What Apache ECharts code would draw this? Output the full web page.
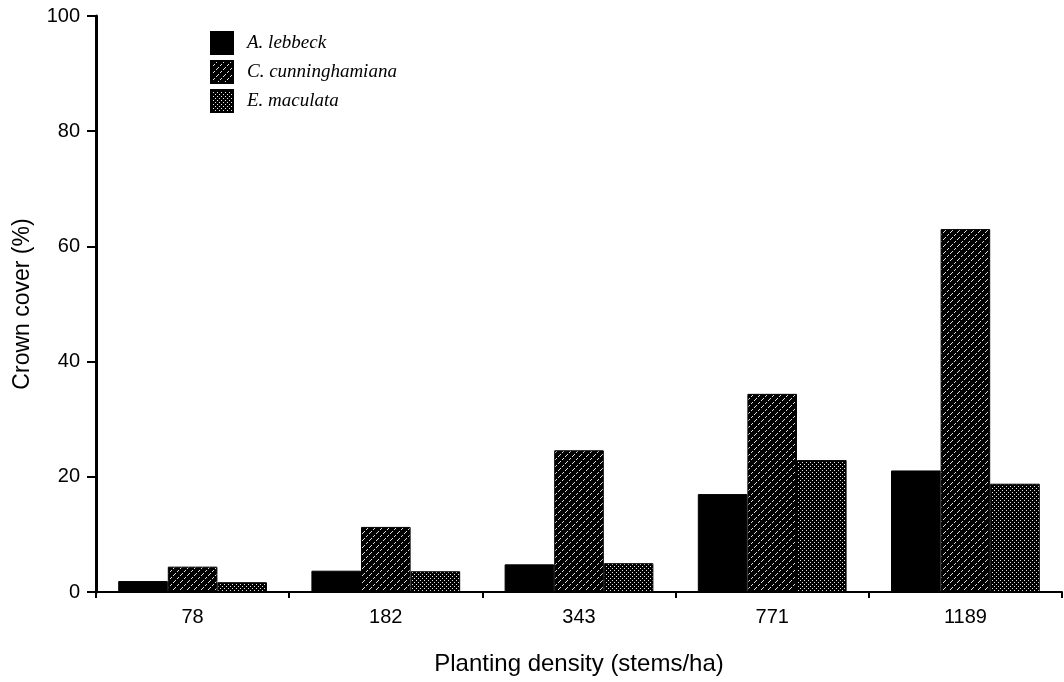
<!DOCTYPE html>
<html>
<head>
<meta charset="utf-8">
<script src="https://cdn.jsdelivr.net/npm/echarts@6/dist/echarts.min.js"></script>
<style>html,body{margin:0;padding:0;background:#fff;}#c{width:1064px;height:682px;}</style>
</head>
<body>
<div id="c"></div>
<script>
const categories = ['78', '182', '343', '771', '1189'];
const seriesNames = ['A. lebbeck', 'C. cunninghamiana', 'E. maculata'];
const lebbeck = [1.9, 3.7, 4.8, 17.0, 21.1];
const cunninghamiana = [4.4, 11.3, 24.6, 34.4, 63.0];
const maculata = [1.7, 3.6, 5.0, 22.9, 18.8];
const yTicks = [0, 20, 40, 60, 80, 100];

function hatchTile() {
  const c = document.createElement('canvas');
  c.width = 7; c.height = 7;
  const g = c.getContext('2d');
  g.fillStyle = '#000'; g.fillRect(0, 0, 7, 7);
  g.fillStyle = '#e0e0e0';
  for (let i = 0; i < 7; i++) {
    if (i % 3 === 2) continue;
    g.fillRect(6 - i, i, 1, 1);
  }
  return c;
}
function dotTile() {
  const c = document.createElement('canvas');
  c.width = 4; c.height = 4;
  const g = c.getContext('2d');
  g.fillStyle = '#000'; g.fillRect(0, 0, 4, 4);
  g.fillStyle = '#e6e6e6';
  g.fillRect(0, 0, 1, 1);
  g.fillRect(2, 2, 1, 1);
  return c;
}

const colors = [
  '#000000',
  { image: hatchTile(), repeat: 'repeat' },
  { image: dotTile(), repeat: 'repeat' }
];
const values = [lebbeck, cunninghamiana, maculata];

const chart = echarts.init(document.getElementById('c'), null, { renderer: 'canvas' });
chart.setOption({
  animation: false,
  backgroundColor: '#fff',
  grid: { left: 96, right: 2, top: 16, bottom: 90, containLabel: false },
  legend: {
    orient: 'vertical',
    left: 205, top: 26,
    itemWidth: 22, itemHeight: 22, itemGap: 5,
    icon: 'rect',
    data: seriesNames,
    textStyle: { fontFamily: 'Liberation Serif', fontStyle: 'italic', fontSize: 19, color: '#000', padding: [0, 0, 0, 9] }
  },
  xAxis: {
    type: 'category',
    data: categories,
    name: 'Planting density (stems/ha)',
    nameLocation: 'middle',
    nameGap: 60,
    nameTextStyle: { fontFamily: 'Liberation Sans', fontSize: 24, color: '#000' },
    axisLine: { lineStyle: { color: '#000', width: 2 } },
    axisTick: { show: true, alignWithLabel: false, length: 6, lineStyle: { color: '#000', width: 2 } },
    axisLabel: { fontFamily: 'Liberation Sans', fontSize: 20, color: '#000', margin: 15 },
    splitLine: { show: false }
  },
  yAxis: {
    type: 'value',
    min: 0, max: 100, interval: 20,
    name: 'Crown cover (%)',
    nameLocation: 'middle',
    nameGap: 62,
    nameRotate: 90,
    nameTextStyle: { fontFamily: 'Liberation Sans', fontSize: 23, color: '#000' },
    axisLine: { show: true, lineStyle: { color: '#000', width: 3 } },
    axisTick: { show: true, length: 9, lineStyle: { color: '#000', width: 2 } },
    axisLabel: {
      fontFamily: 'Liberation Sans', fontSize: 20, color: '#000', margin: 16,
      formatter: function (v) { return yTicks.indexOf(v) >= 0 ? String(v) : ''; }
    },
    splitLine: { show: false }
  },
  series: seriesNames.map(function (n, i) {
    return {
      name: n,
      type: 'bar',
      data: values[i],
      barGap: '0%',
      barCategoryGap: '23%',
      itemStyle: { color: colors[i], borderColor: '#000', borderWidth: 1 }
    };
  })
});
</script>
</body>
</html>
